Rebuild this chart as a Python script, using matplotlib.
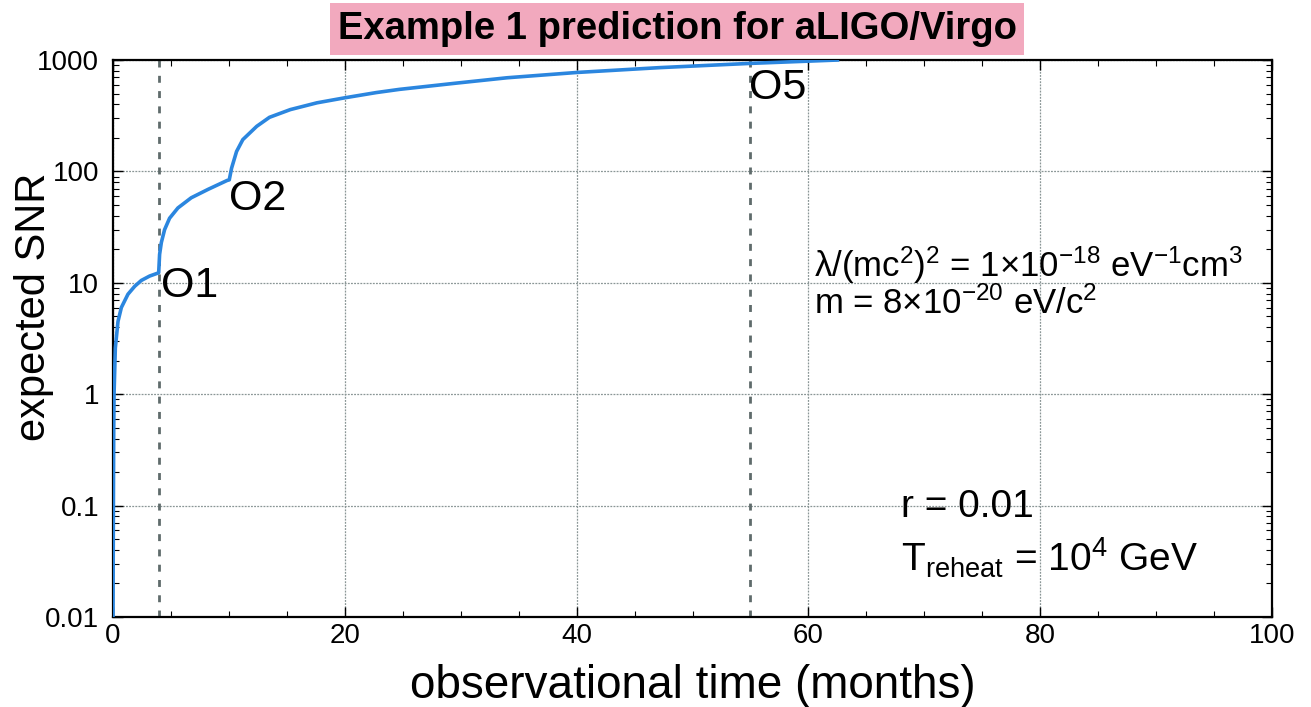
import matplotlib
matplotlib.use("Agg")
import matplotlib.pyplot as plt
from matplotlib.ticker import FixedLocator, FixedFormatter, LogLocator, NullFormatter

plt.rcParams['font.family'] = ['Liberation Sans', 'DejaVu Sans']
plt.rcParams['mathtext.fontset'] = 'custom'
plt.rcParams['mathtext.rm'] = 'Liberation Sans'
plt.rcParams['mathtext.it'] = 'Liberation Sans'

# data
months = [0.0, 0.02, 0.04, 0.06, 0.09, 0.2, 0.43, 0.72, 1.29, 1.87, 2.44, 3.16, 3.94,
          4.02, 4.17, 4.45, 4.88, 5.6, 6.75, 8.2, 9.85,
          10.03, 10.23, 10.66, 11.2, 12.4, 13.5, 15.3, 17.6, 20.0, 22.7, 24.7,
          29.6, 34.0, 40.0, 47.2, 55.0, 62.5]
snr = [0.01, 0.04, 0.15, 0.45, 1.0, 2.6, 4.5, 6.0, 7.9, 9.3, 10.5, 11.5, 12.3,
       18.0, 23.0, 30.0, 38.0, 47.0, 58.0, 69.0, 83.0,
       84.0, 107.0, 151.0, 193.0, 254.0, 306.0, 359.0, 413.0, 458.0, 510.0, 545.0,
       620.0, 693.0, 773.0, 855.0, 933.0, 1000.0]

run_lines = [4.0, 55.0]
run_labels = ["O1", "O2", "O5"]
run_label_pos = [(4.1, 9.3), (10.0, 56.0), (54.9, 560.0)]

yticks = [0.01, 0.1, 1, 10, 100, 1000]
ytick_labels = ["0.01", "0.1", "1", "10", "100", "1000"]
xticks = [0, 20, 40, 60, 80, 100]

fig = plt.figure(figsize=(13.11, 7.07), dpi=100)
ax = fig.add_axes([0.0862, 0.1273, 0.8841, 0.7878])

ax.set_yscale('log')
ax.set_xlim(0, 100)
ax.set_ylim(0.01, 1000)

ax.plot(months, snr, color='#2b86df', lw=2.6, solid_joinstyle='round', zorder=3)

for x in run_lines:
    ax.axvline(x, color='#5f6b6b', lw=2.0, ls=(0, (2.5, 3.0)), zorder=2)

for lab, (x, y) in zip(run_labels, run_label_pos):
    ax.text(x, y, lab, fontsize=31, ha='left', va='center', color='black', zorder=4)

ax.yaxis.set_major_locator(FixedLocator(yticks))
ax.yaxis.set_major_formatter(FixedFormatter(ytick_labels))
ax.yaxis.set_minor_locator(LogLocator(base=10, subs=range(2, 10), numticks=20))
ax.yaxis.set_minor_formatter(NullFormatter())
ax.xaxis.set_major_locator(FixedLocator(xticks))
ax.xaxis.set_minor_locator(FixedLocator(range(0, 101, 5)))

ax.grid(True, which='major', color='#8a9696', lw=0.9, ls=(0, (1.5, 1.0)), zorder=1)

ax.tick_params(which='both', direction='in', top=True, right=True, color='black')
ax.tick_params(which='major', length=7, width=1.0, labelsize=20)
ax.tick_params(axis='y', which='major', pad=10)
ax.tick_params(axis='x', which='major', pad=4)
ax.tick_params(which='minor', length=4, width=0.8)
for s in ax.spines.values():
    s.set_linewidth(1.6)

ax.set_xlabel("observational time (months)", fontsize=33)
ax.xaxis.set_label_coords(0.5, -0.085)
ax.set_ylabel("expected SNR", fontsize=30)
ax.yaxis.set_label_coords(-0.051, 0.557)

ax.text(0.605, 0.610, r"$\lambda$/(mc$^2$)$^2$ = 1$\times$10$^{-18}$ eV$^{-1}$cm$^3$",
        transform=ax.transAxes, fontsize=25, ha='left', va='baseline')
ax.text(0.605, 0.544, r"m = 8$\times$10$^{-20}$ eV/c$^2$",
        transform=ax.transAxes, fontsize=25, ha='left', va='baseline')
ax.text(0.680, 0.1795, "r = 0.01", transform=ax.transAxes, fontsize=28,
        ha='left', va='baseline')
ax.text(0.680, 0.0808, r"T$_{\mathrm{reheat}}$ = 10$^4$ GeV", transform=ax.transAxes,
        fontsize=28, ha='left', va='baseline')

fig.text(0.5165, 0.959, "Example 1 prediction for aLIGO/Virgo", fontsize=27.5, fontweight='bold',
         ha='center', va='center',
         bbox=dict(boxstyle='square,pad=0.2', facecolor='#f2a9be', edgecolor='none'))

fig.savefig("out.png", dpi=100)
